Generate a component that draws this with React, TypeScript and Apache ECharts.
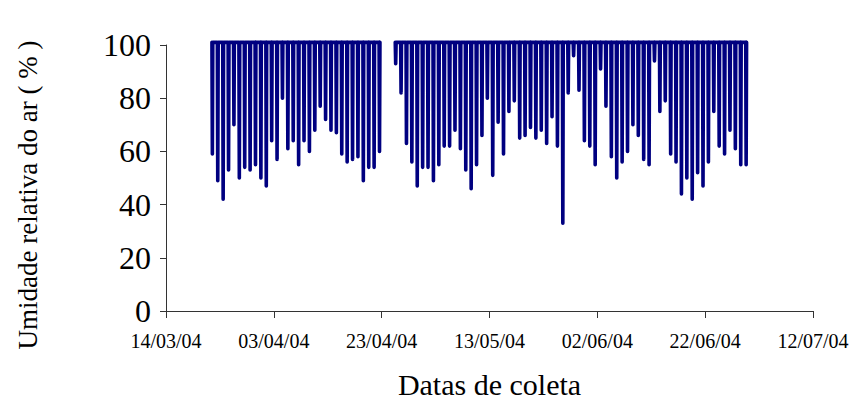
import { useEffect, useRef } from 'react';
import * as echarts from 'echarts';

// Horizontal axis: days counted from the first tick date, ticks every 20 days
const axisOrigin = '2004-03-14';
const tickStepDays = 20;
const tickLabels = ['14/03/04', '03/04/04', '23/04/04', '13/05/04', '02/06/04', '22/06/04', '12/07/04'];

// Vertical axis (%)
const yMin = 0;
const yMax = 100;
const yStep = 20;

// Night-time saturated reading of the sensor (%)
const saturatedRH = 101;

// Daily minimum relative humidity (%) – first collection period
const period1Start = '2004-03-22';
const period1DailyMin = [
  59, 49, 42, 53, 70, 50, 54, 53, 55, 50,
  47, 64, 57, 80, 61, 64, 55, 64, 60, 68,
  77, 72, 68, 67, 59, 56, 57, 58, 49, 54,
  54, 60,
];

// Daily minimum relative humidity (%) – second collection period
const period2Start = '2004-04-25';
const period2DailyMin = [
  93, 82, 63, 56, 47, 54, 54, 49, 55, 62,
  62, 68, 61, 53, 46, 55, 66, 80, 51, 71,
  59, 75, 79, 65, 66, 69, 65, 68, 63, 73,
  62, 33, 82, 96, 83, 64, 62, 55, 91, 77,
  58, 50, 56, 60, 70, 66, 57, 55, 94, 75,
  79, 59, 56, 44, 50, 42, 52, 47, 56, 75,
  62, 59, 68, 61, 55, 55,
];

const yTitle = 'Umidade relativa do ar ( % )';
const xTitle = 'Datas de coleta';

const DAY_MS = 86400000;
const dayIndex = (iso: string) =>
  Math.round((Date.parse(iso + 'T00:00:00Z') - Date.parse(axisOrigin + 'T00:00:00Z')) / DAY_MS);

// Each day: saturated overnight, dropping to the afternoon minimum and back
function dailyCycle(startIso: string, mins: number[]): [number, number][] {
  const d0 = dayIndex(startIso);
  const pts: [number, number][] = [];
  mins.forEach((m, i) => {
    const d = d0 + i;
    pts.push([d + 0.52, saturatedRH], [d + 0.6, m], [d + 0.68, saturatedRH]);
  });
  return pts;
}

const FONT = "'Liberation Serif', 'Times New Roman', serif";
const NAVY = '#000080';

export default function App() {
  const ref = useRef<HTMLDivElement>(null);

  useEffect(() => {
    if (!ref.current) return;
    const chart = echarts.init(ref.current, undefined, { renderer: 'svg' });

    const lineStyle = { color: NAVY, width: 3.6, cap: 'round' as const, join: 'round' as const };

    chart.setOption({
      animation: false,
      backgroundColor: '#fff',
      textStyle: { fontFamily: FONT },
      grid: {
        left: 166,
        right: 38,
        top: 45,
        bottom: 92,
        containLabel: false,
        outerBoundsMode: 'none',
      },
      xAxis: {
        type: 'value',
        min: 0,
        max: tickStepDays * (tickLabels.length - 1),
        interval: tickStepDays,
        name: xTitle,
        nameLocation: 'middle',
        nameGap: 58,
        nameTextStyle: { fontFamily: FONT, fontSize: 30, color: '#000' },
        axisLine: { show: true, onZero: false, lineStyle: { color: '#333', width: 1 } },
        axisTick: { show: true, inside: false, length: 7, lineStyle: { color: '#333' } },
        axisLabel: {
          margin: 20,
          fontFamily: FONT,
          fontSize: 20,
          color: '#000',
          formatter: (v: number) => tickLabels[Math.round(v / tickStepDays)] ?? '',
        },
        splitLine: { show: false },
      },
      yAxis: {
        type: 'value',
        min: yMin,
        max: yMax,
        interval: yStep,
        name: yTitle,
        nameLocation: 'middle',
        nameGap: 125,
        nameTextStyle: {
          fontFamily: FONT,
          fontSize: 27,
          color: '#000',
          padding: [0, 34, 0, 0],
        },
        axisLine: { show: true, lineStyle: { color: '#333', width: 1 } },
        axisTick: { show: true, inside: false, length: 6, lineStyle: { color: '#333' } },
        axisLabel: { margin: 15, fontFamily: FONT, fontSize: 32, color: '#000' },
        splitLine: { show: false },
      },
      series: [
        {
          type: 'line',
          data: dailyCycle(period1Start, period1DailyMin),
          showSymbol: false,
          clip: false,
          lineStyle,
        },
        {
          type: 'line',
          data: dailyCycle(period2Start, period2DailyMin),
          showSymbol: false,
          clip: false,
          lineStyle,
        },
      ],
    });

    return () => chart.dispose();
  }, []);

  return (
    <div
      ref={ref}
      style={{ position: 'absolute', left: 0, top: 0, width: 851, height: 403 }}
    />
  );
}
